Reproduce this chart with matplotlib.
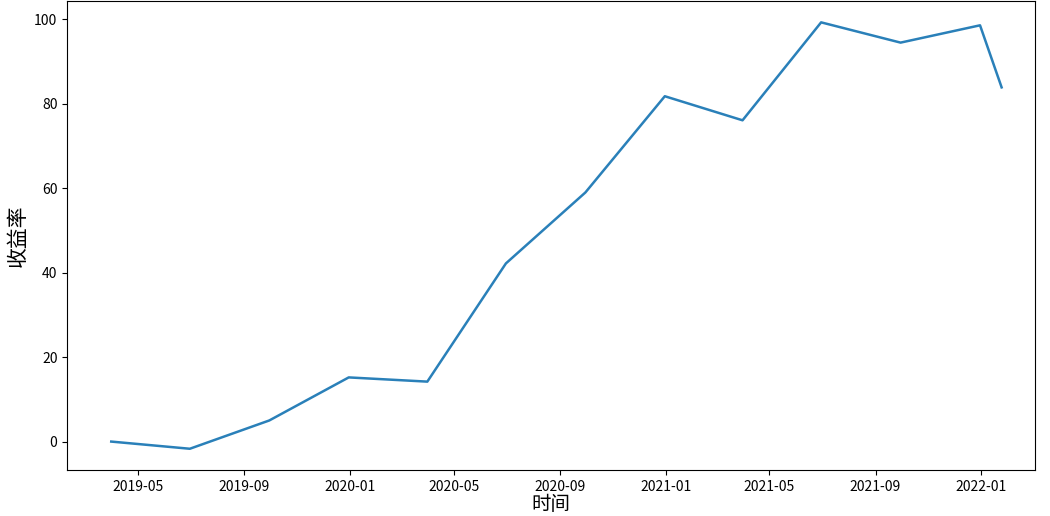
import matplotlib
matplotlib.use('Agg')
import matplotlib.pyplot as plt
import matplotlib.dates as mdates
import pandas as pd

plt.rcParams['font.family'] = ['Noto Sans CJK SC', 'DejaVu Sans']
plt.rcParams['axes.unicode_minus'] = False

dates = ['2019-03-31', '2019-06-30', '2019-09-30', '2019-12-31', '2020-03-31',
         '2020-06-30', '2020-09-30', '2020-12-31', '2021-03-31', '2021-06-30',
         '2021-09-30', '2021-12-31', '2022-01-25']
returns = [0.0, -1.7, 5.0, 15.2, 14.2, 42.2, 59.0, 81.8, 76.1, 99.3, 94.5, 98.6, 83.9]

x = pd.to_datetime(dates)

fig = plt.figure(figsize=(10.5, 5.16), dpi=100)
ax = fig.add_axes([0.064, 0.089, 0.922, 0.909])
ax.plot(x, returns, color='#2a80b9', linewidth=1.8)

ax.set_xlim(pd.Timestamp('2019-02-08'), pd.Timestamp('2022-03-05'))
ax.xaxis.set_major_locator(mdates.MonthLocator(bymonth=[1, 5, 9]))
ax.xaxis.set_major_formatter(mdates.DateFormatter('%Y-%m'))
ax.tick_params(labelsize=10)

ax.set_xlabel('时间', fontsize=14, labelpad=0)
ax.set_ylabel('收益率', fontsize=15)

fig.savefig('out.png', dpi=100)
